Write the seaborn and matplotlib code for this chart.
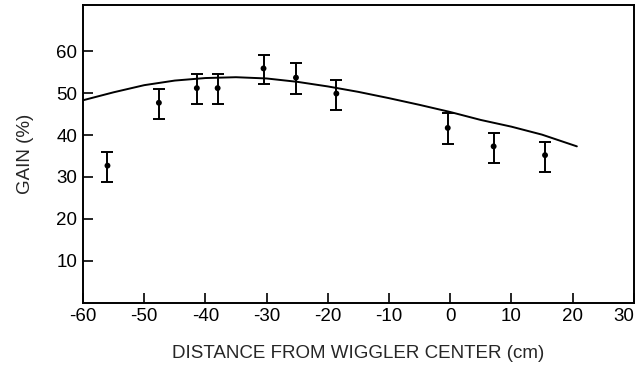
import seaborn as sns
import pandas as pd
import matplotlib.pyplot as plt

# measured gain at each position along the wiggler
position = [-56.0, -47.6, -41.4, -38.0, -30.5, -25.2, -18.6, -0.4, 7.1, 15.5]
gain = [32.7, 47.7, 51.2, 51.2, 55.9, 53.7, 49.9, 41.7, 37.3, 35.2]
gain_low = [28.8, 43.9, 47.3, 47.3, 52.1, 49.9, 46.0, 37.8, 33.3, 31.2]
gain_high = [36.0, 51.0, 54.5, 54.5, 59.1, 57.1, 53.2, 45.2, 40.5, 38.3]

# theory curve
curve_x = [-60, -55, -50, -45, -40, -35, -30, -25, -20, -15, -10, -5, 0, 5, 10, 15, 20.7]
curve_y = [48.3, 50.2, 51.9, 53.0, 53.6, 53.8, 53.5, 52.7, 51.6, 50.3, 48.8, 47.2,
           45.5, 43.6, 42.0, 40.1, 37.3]

x_ticks = [-60, -50, -40, -30, -20, -10, 0, 10, 20, 30]
y_ticks = [10, 20, 30, 40, 50, 60]

meas = pd.DataFrame({'pos': position, 'gain': gain})
theory = pd.DataFrame({'pos': curve_x, 'gain': curve_y})

sns.set_theme(style='ticks')
plt.rcParams['font.family'] = ['Liberation Sans', 'DejaVu Sans']
plt.rcParams['axes.unicode_minus'] = False

fig = plt.figure(figsize=(6.36, 3.66), dpi=100)
ax = fig.add_axes([0.1305, 0.173, 0.866, 0.813])

sns.lineplot(data=theory, x='pos', y='gain', color='black', lw=1.4, ax=ax)

yerr = [[g - lo for g, lo in zip(gain, gain_low)],
        [hi - g for g, hi in zip(gain, gain_high)]]
ax.errorbar(position, gain, yerr=yerr, fmt='none', ecolor='black',
            elinewidth=1.4, capsize=4.2, capthick=1.4)
sns.scatterplot(data=meas, x='pos', y='gain', color='black', s=18,
                edgecolor='none', ax=ax, zorder=3)

ax.set_xlim(-60, 30)
ax.set_ylim(0, 71)
ax.set_xticks(x_ticks)
ax.set_yticks(y_ticks)
ax.tick_params(direction='in', length=7, width=1.2, labelsize=13.5, colors='black', pad=4)
# last label sits at the right edge of the figure
ax.get_xticklabels()[-1].set_horizontalalignment('right')
for s in ax.spines.values():
    s.set_linewidth(1.4)
    s.set_color('black')

ax.set_xlabel('DISTANCE FROM WIGGLER CENTER (cm)', fontsize=13.5, labelpad=14)
ax.set_ylabel('GAIN (%)', fontsize=13.5, labelpad=16)

plt.savefig('out.png', dpi=100)
